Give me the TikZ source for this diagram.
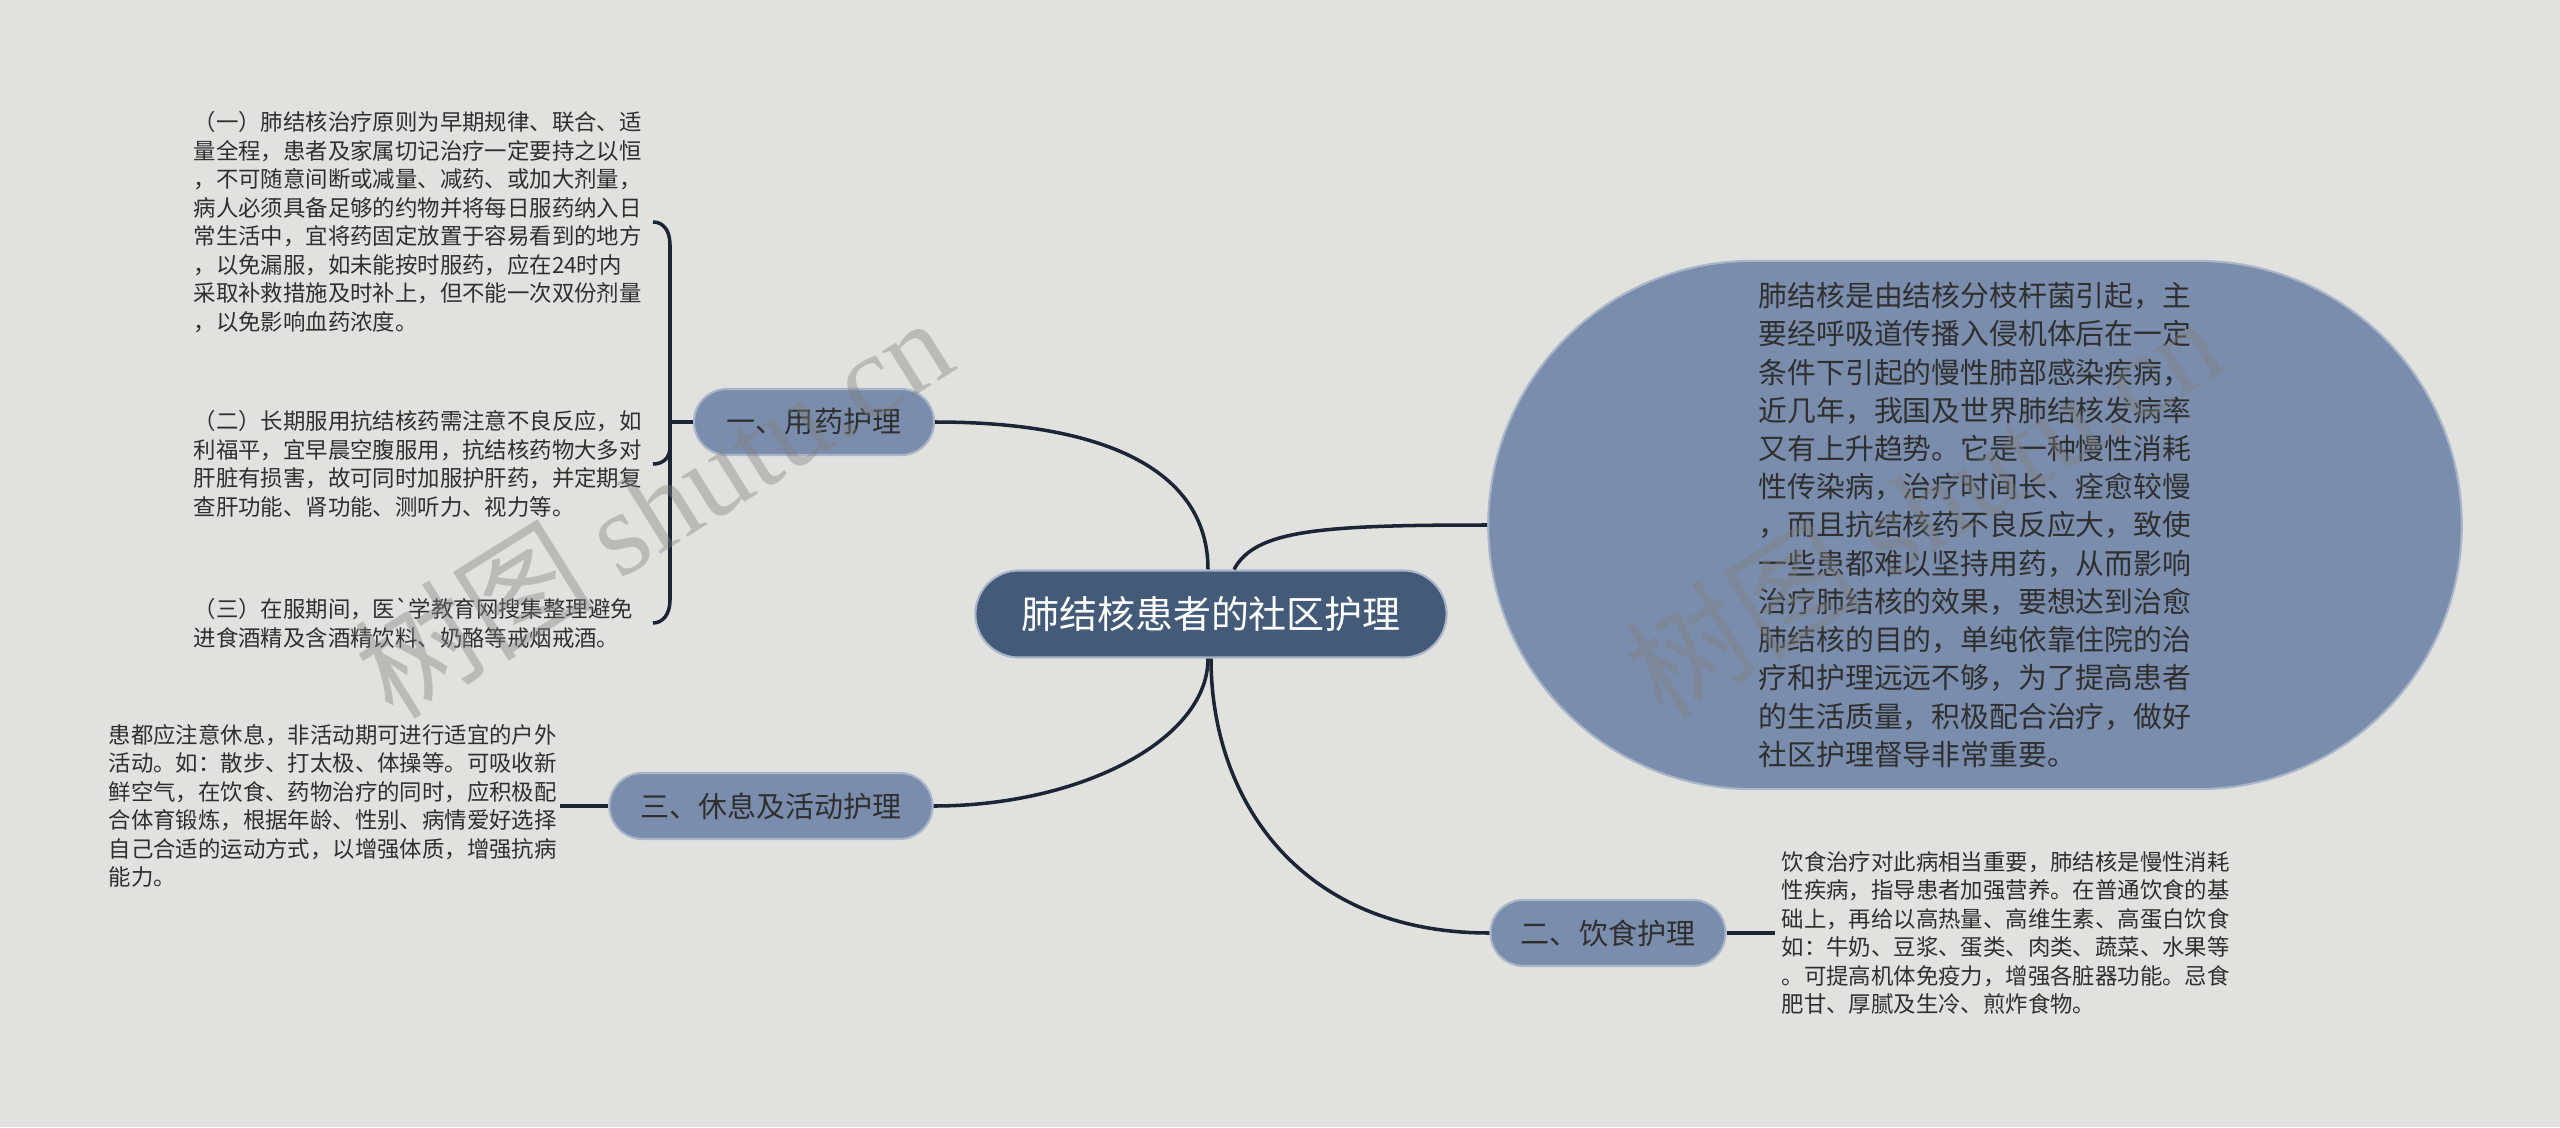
\documentclass[tikz,border=0pt]{standalone}
\usepackage{fontspec}
\setmainfont{Noto Sans CJK SC}
\newfontfamily\cjk{Noto Sans CJK SC}
\newfontfamily\wmserif{Liberation Serif}
\definecolor{bgc}{HTML}{E1E2DD}
\definecolor{rootc}{HTML}{435A79}
\definecolor{branchc}{HTML}{7A8DAC}
\definecolor{edgec}{HTML}{A9B6CA}
\definecolor{linec}{HTML}{1C2536}
\definecolor{textc}{HTML}{2F2F2F}
\begin{document}
\begin{tikzpicture}[x=0.01cm,y=-0.01cm,
  conn/.style={draw=linec, line width=1pt},
  topic/.style={rectangle, rounded corners=0.33cm, fill=branchc, draw=edgec, line width=0.6pt,
    minimum height=0.66cm, text=textc, font=\cjk\fontsize{8.25}{10}\selectfont, inner sep=0pt},
  roottopic/.style={rectangle, rounded corners=0.435cm, fill=rootc, draw=edgec, line width=0.6pt,
    minimum height=0.87cm, minimum width=4.71cm, text=white, font=\cjk\fontsize{10.8}{13}\selectfont, inner sep=0pt},
  bigshape/.style={rectangle, rounded corners=2.64cm, fill=branchc, draw=edgec, line width=0.6pt,
    minimum height=5.28cm, minimum width=9.73cm, text=textc, align=left,
    font=\cjk\fontsize{8.2}{10.87}\selectfont, inner sep=0pt},
  leaf/.style={anchor=west, align=left, text=textc, font=\cjk\fontsize{6.37}{8.1}\selectfont, inner sep=0pt},
  wm/.style={text=gray, opacity=0.4, font=\cjk\fontsize{34}{38}\selectfont, inner sep=0pt}
]
\useasboundingbox (0,0) rectangle (2560,1127);
\fill[bgc] (0,0) rectangle (2560,1127);

% main nodes
\node[roottopic] (root) at (1211,614) {肺结核患者的社区护理};
\node[topic, minimum width=2.40cm] (b1) at (814,422) {一、用药护理};
\node[topic, minimum width=3.23cm] (b3) at (771,806) {三、休息及活动护理};
\node[topic, minimum width=2.35cm] (b2) at (1608,933) {二、饮食护理};
\node[bigshape] (big) at (1975,525) {肺结核是由结核分枝杆菌引起，主\\要经呼吸道传播入侵机体后在一定\\条件下引起的慢性肺部感染疾病，\\近几年，我国及世界肺结核发病率\\又有上升趋势。它是一种慢性消耗\\性传染病，治疗时间长、痊愈较慢\\，而且抗结核药不良反应大，致使\\一些患都难以坚持用药，从而影响\\治疗肺结核的效果，要想达到治愈\\肺结核的目的，单纯依靠住院的治\\疗和护理远远不够，为了提高患者\\的生活质量，积极配合治疗，做好\\社区护理督导非常重要。};

% leaves
\node[leaf] (l1) at (193,222) {（一）肺结核治疗原则为早期规律、联合、适\\量全程，患者及家属切记治疗一定要持之以恒\\，不可随意间断或减量、减药、或加大剂量，\\病人必须具备足够的约物并将每日服药纳入日\\常生活中，宜将药固定放置于容易看到的地方\\，以免漏服，如未能按时服药，应在24时内\\采取补救措施及时补上，但不能一次双份剂量\\，以免影响血药浓度。};
\node[leaf] (l2) at (193,464) {（二）长期服用抗结核药需注意不良反应，如\\利福平，宜早晨空腹服用，抗结核药物大多对\\肝脏有损害，故可同时加服护肝药，并定期复\\查肝功能、肾功能、测听力、视力等。};
\node[leaf] (l3) at (193,623) {（三）在服期间，医`学教育网搜集整理避免\\进食酒精及含酒精饮料、奶酪等戒烟戒酒。};
\node[leaf] (r) at (108,806) {患都应注意休息，非活动期可进行适宜的户外\\活动。如：散步、打太极、体操等。可吸收新\\鲜空气，在饮食、药物治疗的同时，应积极配\\合体育锻炼，根据年龄、性别、病情爱好选择\\自己合适的运动方式，以增强体质，增强抗病\\能力。};
\node[leaf] (f) at (1781,933) {饮食治疗对此病相当重要，肺结核是慢性消耗\\性疾病，指导患者加强营养。在普通饮食的基\\础上，再给以高热量、高维生素、高蛋白饮食\\如：牛奶、豆浆、蛋类、肉类、蔬菜、水果等\\。可提高机体免疫力，增强各脏器功能。忌食\\肥甘、厚腻及生冷、煎炸食物。};

% main connectors
\draw[conn] ([xshift=-0.03cm]root.north) .. controls (1208,474) and (1112,422) .. (b1.east);
\draw[conn] ([xshift=0.23cm]root.north) .. controls (1255,530) and (1320,525) .. (big.west);
\draw[conn] ([xshift=-0.03cm]root.south) .. controls (1208,740) and (1080,806) .. (b3.east);
\draw[conn] (root.south) .. controls (1211,800) and (1300,933) .. (b2.west);

% leaf connectors
\coordinate (br) at (670,422);
\coordinate (t1) at (653,222);
\coordinate (t2) at (653,464);
\coordinate (t3) at (653,623);
\draw[conn] (b1.west) -- (br);
\draw[conn] (br) -- (670,245) .. controls (670,230) and (663,222) .. (t1);
\draw[conn] (br) -- (670,447) .. controls (670,458) and (663,464) .. (t2);
\draw[conn] (br) -- (670,600) .. controls (670,614) and (663,623) .. (t3);
\coordinate (rr) at (560,806);
\draw[conn] (b3.west) -- (rr);
\coordinate (ff) at (1775,933);
\draw[conn] (b2.east) -- (ff);

% watermarks
\node[wm, rotate=32] (wm1) at (653,506) {树图 {\wmserif shutu.cn}};
\node[wm, rotate=32] (wm2) at (1923,506) {树图 {\wmserif shutu.cn}};
\end{tikzpicture}
\end{document}
